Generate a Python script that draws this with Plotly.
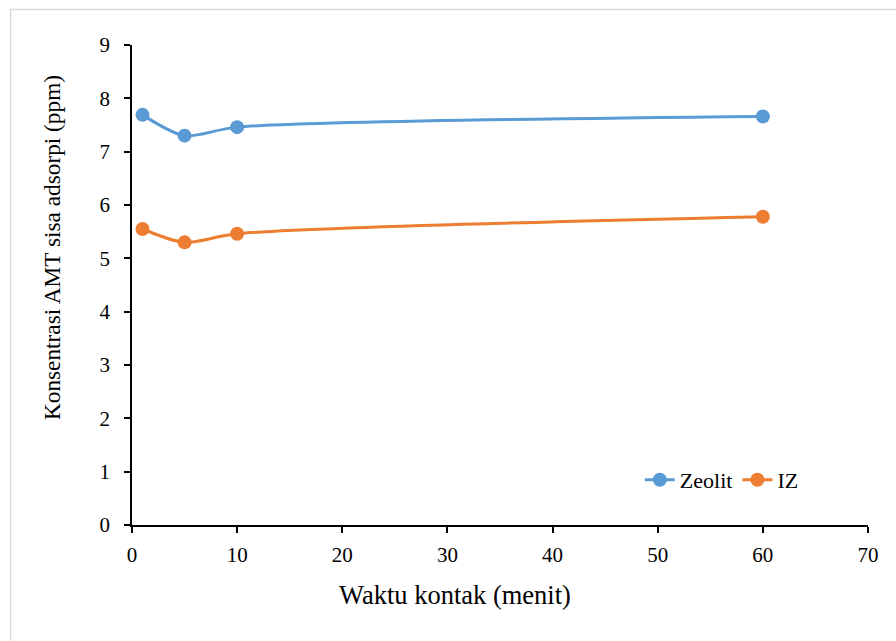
import plotly.graph_objects as go

# Contact time (minutes) and residual AMT concentration (ppm)
waktu = [1, 5, 10, 60]
zeolit = [7.69, 7.30, 7.46, 7.66]
iz = [5.55, 5.30, 5.46, 5.78]

x_ticks = [0, 10, 20, 30, 40, 50, 60, 70]
y_ticks = [0, 1, 2, 3, 4, 5, 6, 7, 8, 9]

x_title = "Waktu kontak (menit)"
y_title = "Konsentrasi AMT sisa adsorpi (ppm)"

FONT = "'Liberation Serif', 'Times New Roman', serif"

fig = go.Figure()
fig.add_trace(go.Scatter(
    x=waktu, y=zeolit, name="Zeolit", mode="lines+markers",
    line=dict(color="#5B9BD5", width=3, shape="spline", smoothing=0.8),
    marker=dict(color="#5B9BD5", size=14),
))
fig.add_trace(go.Scatter(
    x=waktu, y=iz, name="IZ", mode="lines+markers",
    line=dict(color="#ED7D31", width=3, shape="spline", smoothing=0.8),
    marker=dict(color="#ED7D31", size=14),
))

axis_common = dict(
    showline=True, linecolor="black", linewidth=1.5,
    ticks="outside", ticklen=6, tickcolor="black", tickwidth=1.5,
    showgrid=False, zeroline=False,
    tickfont=dict(family=FONT, size=21, color="black"),
)

fig.update_layout(
    width=896, height=641,
    margin=dict(l=132, r=28, t=45, b=116),
    paper_bgcolor="white", plot_bgcolor="white",
    font=dict(family=FONT, color="black"),
    xaxis=dict(range=[0, 70], tickvals=x_ticks, ticklabelstandoff=4, **axis_common),
    yaxis=dict(range=[0, 9], tickvals=y_ticks, ticklabelstandoff=10, **axis_common),
    legend=dict(orientation="h", x=0.69, y=0.094, xanchor="left", yanchor="middle",
                font=dict(family=FONT, size=22), bgcolor="rgba(0,0,0,0)"),
    annotations=[
        dict(text=x_title, xref="paper", yref="paper", x=0.439, y=-0.146,
             xanchor="center", yanchor="middle", showarrow=False,
             font=dict(family=FONT, size=26.5, color="black")),
        dict(text=y_title, xref="paper", yref="paper", x=-0.1087, y=0.579,
             xanchor="center", yanchor="middle", showarrow=False, textangle=-90,
             font=dict(family=FONT, size=23.3, color="black")),
    ],
    shapes=[dict(type="rect", xref="paper", yref="paper",
                 x0=-0.1649, x1=1.05, y0=-0.3, y1=1.074,
                 line=dict(color="#D9D9D9", width=1.5), fillcolor="rgba(0,0,0,0)", layer="below")],
)

fig.write_html("out.html")
